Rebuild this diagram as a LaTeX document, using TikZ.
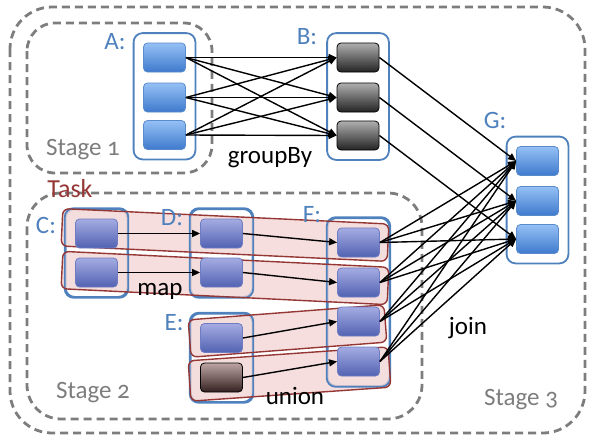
\documentclass[tikz,border=0pt]{standalone}
\usepackage{fontspec}
\setmainfont{Carlito}[Numbers=OldStyle]
\usetikzlibrary{arrows.meta,fit}
\definecolor{stagegray}{RGB}{125,125,125}
\definecolor{lblblue}{RGB}{79,129,189}
\definecolor{taskred}{RGB}{149,55,53}
\definecolor{taskfill}{RGB}{242,214,213}
\definecolor{abtop}{RGB}{150,192,246}
\definecolor{abbot}{RGB}{62,122,204}
\definecolor{abedge}{RGB}{90,140,205}
\definecolor{pbtop}{RGB}{165,172,226}
\definecolor{pbbot}{RGB}{82,98,178}
\definecolor{pbedge}{RGB}{110,125,195}
\definecolor{gbtop}{RGB}{175,175,175}
\definecolor{gbbot}{RGB}{35,35,35}
\definecolor{brtop}{RGB}{190,165,165}
\definecolor{brbot}{RGB}{52,32,32}
\pgfdeclarelayer{bg}
\pgfdeclarelayer{mid}
\pgfsetlayers{bg,mid,main}
\tikzset{
  ibox/.style={rectangle, rounded corners=4pt, minimum width=42pt, minimum height=29pt, inner sep=0pt, line width=0.8pt},
  bluebox/.style={ibox, draw=abedge, top color=abtop, bottom color=abbot},
  purplebox/.style={ibox, draw=pbedge, top color=pbtop, bottom color=pbbot},
  graybox/.style={ibox, draw=black, top color=gbtop, bottom color=gbbot},
  brownbox/.style={ibox, draw=black, top color=brtop, bottom color=brbot},
  cont/.style={rectangle, rounded corners=9pt, draw=lblblue, line width=1.8pt, fill=white, inner sep=9.5pt},
  contline/.style={draw=lblblue, line width=1.8pt, rounded corners=9pt},
  stagebox/.style={draw=stagegray, line width=2.8pt, dash pattern=on 8pt off 5pt},
  taskbox/.style={rectangle, rounded corners=6pt, fill=taskfill, fill opacity=0.8, inner sep=0pt},
  taskline/.style={draw=taskred, line width=1.4pt, rounded corners=6pt},
  conn/.style={draw=black, line width=1.4pt, -{Triangle[length=8pt,width=7pt]}},
  lbl/.style={text=lblblue, font=\fontsize{25}{27}\selectfont, inner sep=0pt},
  stagelbl/.style={text=stagegray, font=\fontsize{25}{27}\selectfont, inner sep=0pt},
  oplbl/.style={text=black, font=\fontsize{25}{27}\selectfont, inner sep=0pt},
}
\begin{document}
\begin{tikzpicture}[x=1pt,y=-1pt]
\useasboundingbox (0,0) rectangle (600,437);
% boxes
\node[bluebox] (a1) at (164.5,57.5) {};
\node[bluebox] (a2) at (164.5,97.5) {};
\node[bluebox] (a3) at (164.5,135) {};
\node[graybox] (b1) at (358,57.5) {};
\node[graybox] (b2) at (358,97.5) {};
\node[graybox] (b3) at (358,135.5) {};
\node[bluebox] (g1) at (537.5,161) {};
\node[bluebox] (g2) at (537.5,201) {};
\node[bluebox] (g3) at (537.5,239) {};
\node[purplebox] (c1) at (96.5,233.5) {};
\node[purplebox] (c2) at (96.5,272.5) {};
\node[purplebox] (d1) at (221.5,233.5) {};
\node[purplebox] (d2) at (221.5,272.5) {};
\node[purplebox] (e1) at (221.5,338) {};
\node[brownbox] (e2) at (221.5,377.5) {};
\node[purplebox] (f1) at (358.5,242.5) {};
\node[purplebox] (f2) at (358.5,282.5) {};
\node[purplebox] (f3) at (358.5,321.5) {};
\node[purplebox] (f4) at (358.5,361.5) {};
% stages and containers
\begin{pgfonlayer}{bg}
\draw[stagebox, rounded corners=42pt] (10,7) rectangle (585,433);
\draw[stagebox, rounded corners=28pt] (27,23) rectangle (212,173);
\draw[stagebox, rounded corners=34pt] (27,193) rectangle (422,419);
\node[cont, fit=(a1)(a3)] (ca) {};
\node[cont, fit=(b1)(b3)] (cb) {};
\node[cont, fit=(g1)(g3)] (cg) {};
\node[cont, fit=(c1)(c2)] (cc) {};
\node[cont, fit=(d1)(d2)] (cd) {};
\node[cont, fit=(e1)(e2)] (ce) {};
\node[cont, fit=(f1)(f4)] (cf) {};
\end{pgfonlayer}
% tasks
\begin{pgfonlayer}{mid}
\node[taskbox, minimum width=326pt, minimum height=37pt, rotate=-2.7] (t1) at (225,235) {};
\node[taskbox, minimum width=326pt, minimum height=37pt, rotate=-2.8] (t2) at (225,278) {};
\node[taskbox, minimum width=196pt, minimum height=37pt, rotate=4.4] (t3) at (287.5,331) {};
\node[taskbox, minimum width=200pt, minimum height=40pt, rotate=4.0] (t4) at (289.5,374) {};
\foreach \c in {cc,cd,ce,cf}{\draw[contline] (\c.north west) rectangle (\c.south east);}
\foreach \t in {t1,t2,t3,t4}{\draw[taskline] (\t.north west) -- (\t.north east) -- (\t.south east) -- (\t.south west) -- cycle;}
\end{pgfonlayer}
% connectors
\foreach \i in {1,2,3}{\foreach \j in {1,2,3}{\draw[conn] (a\i.east) -- (b\j.west);}}
\foreach \i in {1,2,3}{\draw[conn] (b\i.east) -- (g\i.west);}
\foreach \i in {1,2,3,4}{\foreach \j in {1,2,3}{\draw[conn] (f\i.east) -- (g\j.west);}}
\draw[conn] (c1.east) -- (d1.west);
\draw[conn] (c2.east) -- (d2.west);
\draw[conn] (d1.east) -- (f1.west);
\draw[conn] (d2.east) -- (f2.west);
\draw[conn] (e1.east) -- (f3.west);
\draw[conn] (e2.east) -- (f4.west);
% labels
\node[lbl] (la) at (115,42) {A:};
\node[lbl] (lb) at (307,37) {B:};
\node[lbl] (lg) at (495,120) {G:};
\node[lbl] (lc) at (46,225) {C:};
\node[lbl] (ld) at (172,218) {D:};
\node[lbl] (le) at (174,323) {E:};
\node[lbl] (lf) at (312,215) {F:};
\node[text=taskred, font=\fontsize{26}{28}\selectfont, inner sep=0pt] (ltask) at (70,189) {Task};
\node[stagelbl] (s1) at (83,150) {Stage 1};
\node[stagelbl] (s2) at (93,393) {Stage 2};
\node[stagelbl] (s3) at (521,400) {Stage 3};
\node[oplbl] (op1) at (270,158) {groupBy};
\node[oplbl] (op2) at (160,291) {map};
\node[oplbl] (op3) at (295,396) {union};
\node[oplbl] (op4) at (468,328) {join};
\end{tikzpicture}
\end{document}
